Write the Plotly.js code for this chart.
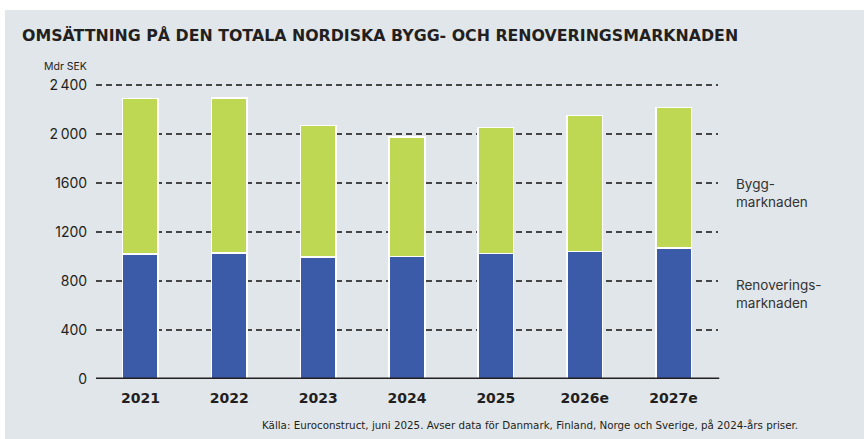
<!DOCTYPE html>
<html>
<head>
<meta charset="utf-8">
<script src="https://cdn.plot.ly/plotly-3.0.1.min.js"></script>
<style>
html,body{margin:0;padding:0;background:#ffffff;}
#panel{position:absolute;left:5px;top:10px;width:859px;height:429px;background:#e1e6ea;}
#chart{position:absolute;left:0;top:0;width:864px;height:439px;}
</style>
</head>
<body>
<div id="panel"></div>
<div id="chart"></div>
<script>
const years = ["2021", "2022", "2023", "2024", "2025", "2026e", "2027e"];
const renovering = [1019, 1027, 995, 1000, 1023, 1039, 1069];
const totals = [2288, 2295, 2070, 1975, 2052, 2152, 2215];
const bygg = totals.map((t, i) => t - renovering[i]);
const tickVals = [0, 400, 800, 1200, 1600, 2000, 2400];
const tickText = ["0", "400", "800", "1200", "1600", "2\u2009000", "2\u2009400"];

const FONT = "Inter, Roboto, 'DejaVu Sans', sans-serif";
const WIDE = "'DejaVu Sans', Inter, sans-serif";

const traces = [
  {type: "bar", x: years, y: renovering, name: "Renoveringsmarknaden",
   marker: {color: "#3b5ba8", line: {color: "#ffffff", width: 1.5}}, width: 0.4, hoverinfo: "skip"},
  {type: "bar", x: years, y: bygg, name: "Byggmarknaden",
   marker: {color: "#bed853", line: {color: "#ffffff", width: 1.5}}, width: 0.4, hoverinfo: "skip"}
];

const layout = {
  width: 864, height: 439,
  paper_bgcolor: "rgba(0,0,0,0)", plot_bgcolor: "rgba(0,0,0,0)",
  barmode: "stack", showlegend: false,
  margin: {l: 96, r: 146, t: 82, b: 60},
  font: {family: FONT, color: "#231f20"},
  title: {text: "OMSÄTTNING PÅ DEN TOTALA NORDISKA BYGG- OCH RENOVERINGSMARKNADEN",
          x: 22/864, xref: "container", xanchor: "left",
          y: 1 - 35/439, yref: "container", yanchor: "middle",
          font: {family: WIDE, size: 15.8, weight: 700, color: "#231f20"}},
  xaxis: {type: "category", range: [-0.5, 6.5], showgrid: false, zeroline: false, showline: false,
          ticks: "outside", ticklen: 6, tickcolor: "rgba(0,0,0,0)",
          tickfont: {family: WIDE, size: 14, weight: 700, color: "#231f20"}, fixedrange: true},
  yaxis: {range: [0, 2424], tickvals: tickVals, ticktext: tickText,
          showgrid: true, gridcolor: "#454545", griddash: "6px,4px", gridwidth: 1.3,
          zeroline: false, showline: false, ticks: "outside", ticklen: 5, tickcolor: "rgba(0,0,0,0)",
          tickfont: {family: FONT, size: 14, color: "#231f20"}, fixedrange: true},
  shapes: [
    {type: "line", xref: "paper", yref: "y", x0: 0, x1: 1.002, y0: 0, y1: 0,
     line: {color: "#231f20", width: 3}, layer: "above"}
  ],
  annotations: [
    {text: "Mdr SEK", xref: "paper", yref: "paper", x: (65-96)/622, y: (379-67)/297,
     xanchor: "center", yanchor: "middle", showarrow: false,
     font: {family: FONT, size: 10.5, color: "#231f20"}},
    {text: "Bygg-<br>marknaden", xref: "paper", yref: "y", x: (734-96)/622, y: 1517,
     xanchor: "left", yanchor: "middle", align: "left", showarrow: false,
     font: {family: FONT, size: 13.5, color: "#333333"}},
    {text: "Renoverings-<br>marknaden", xref: "paper", yref: "y", x: (734-96)/622, y: 692,
     xanchor: "left", yanchor: "middle", align: "left", showarrow: false,
     font: {family: FONT, size: 13.5, color: "#333333"}},
    {text: "Källa: Euroconstruct, juni 2025. Avser data för Danmark, Finland, Norge och Sverige, på 2024-års priser.",
     xref: "paper", yref: "paper", x: (800-96)/622, y: (379-425)/297,
     xanchor: "right", yanchor: "middle", showarrow: false,
     font: {family: WIDE, size: 10.3, color: "#231f20"}}
  ]
};

Plotly.newPlot("chart", traces, layout, {displayModeBar: false, staticPlot: true});
</script>
</body>
</html>
